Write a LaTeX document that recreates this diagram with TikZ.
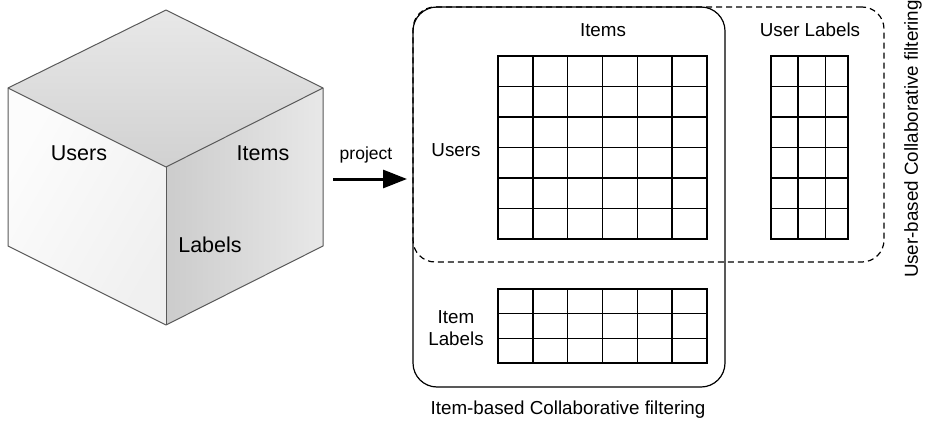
\documentclass[tikz,border=0pt]{standalone}
\usepackage{fontspec}
\setmainfont{Liberation Sans}
\usetikzlibrary{calc,arrows.meta}

\tikzset{
  cubeedge/.style={draw=black!65, line width=1pt, line join=round},
  cubelabel/.style={font=\fontsize{21.5}{25}\selectfont, inner sep=0pt},
  lbl/.style={font=\fontsize{18.8}{23}\selectfont, inner sep=0pt, align=center},
  gridbox/.style={draw=black, line width=1.4pt, minimum width=#1, inner sep=0pt, outer sep=0pt},
  gridline/.style={draw=black, line width=1.4pt},
  groupbox/.style={draw=black, line width=1.2pt, rounded corners=24pt, inner sep=0pt, outer sep=0pt},
  dashbox/.style={draw=black, line width=1.2pt, dash pattern=on 6pt off 4pt, rounded corners=22pt, inner sep=0pt, outer sep=0pt},
  bigarrow/.style={line width=3pt, -{Triangle[length=24pt,width=18pt]}}
}

\begin{document}
\begin{tikzpicture}[x=1pt, y=-1pt]
\useasboundingbox (0,0) rectangle (926,428);

% ---- the cube ----
\coordinate (ct) at (166,10);
\coordinate (cl) at (8,88);
\coordinate (cr) at (323,88);
\coordinate (cc) at (166,167);
\coordinate (cbl) at (8,246);
\coordinate (cbr) at (323,246);
\coordinate (cb) at (166,325);

\shade[top color=black!9, bottom color=black!18] (ct) -- (cr) -- (cc) -- (cl) -- cycle;
\shade[left color=black!1, right color=black!6, shading angle=60] (cl) -- (cc) -- (cb) -- (cbl) -- cycle;
\shade[left color=black!20, right color=black!9] (cc) -- (cr) -- (cbr) -- (cb) -- cycle;
\draw[cubeedge] (ct) -- (cr) -- (cbr) -- (cb) -- (cbl) -- (cl) -- cycle;
\draw[cubeedge] (cl) -- (cc) -- (cr);
\draw[cubeedge] (cc) -- (cb);

\node[cubelabel] (cusers) at (79,153) {Users};
\node[cubelabel] (citems) at (263,153) {Items};
\node[cubelabel] (clabels) at (210,245) {Labels};

% ---- group frames ----
\node[groupbox, minimum width=312pt, minimum height=380pt] (ibcf) at (569,197) {};
\node[dashbox, minimum width=471pt, minimum height=255pt] (ubcf) at (648.5,134.5) {};

% ---- projection arrow ----
\coordinate (astart) at (333,179);
\draw[bigarrow] (astart) -- ([xshift=-6pt]ibcf.west |- astart);
\node[font=\fontsize{17.5}{21}\selectfont, inner sep=0pt] (proj) at (366,155) {project};

% ---- user x item matrix ----
\node[gridbox=209pt, minimum height=183pt] (ui) at (602.5,147.5) {};
\foreach \i in {1,...,5} {
  \draw[gridline] ($(ui.north west)!\i/6!(ui.north east)$) -- ($(ui.south west)!\i/6!(ui.south east)$);
  \draw[gridline] ($(ui.north west)!\i/6!(ui.south west)$) -- ($(ui.north east)!\i/6!(ui.south east)$);
}

% ---- user label matrix ----
\node[gridbox=77pt, minimum height=183pt] (ul) at (809.5,147.5) {};
\foreach \f in {0.35,0.71}
  \draw[gridline] ($(ul.north west)!\f!(ul.north east)$) -- ($(ul.south west)!\f!(ul.south east)$);
\foreach \i in {1,...,5}
  \draw[gridline] ($(ul.north west)!\i/6!(ul.south west)$) -- ($(ul.north east)!\i/6!(ul.south east)$);

% ---- item label matrix ----
\node[gridbox=209pt, minimum height=74pt] (il) at (602.5,326) {};
\foreach \i in {1,...,5}
  \draw[gridline] ($(il.north west)!\i/6!(il.north east)$) -- ($(il.south west)!\i/6!(il.south east)$);
\foreach \i in {1,2}
  \draw[gridline] ($(il.north west)!\i/3!(il.south west)$) -- ($(il.north east)!\i/3!(il.south east)$);

% ---- labels ----
\node[lbl] (litems) at (603,30) {Items};
\node[lbl] (lusers) at (456,150) {Users};
\node[lbl] (lulabels) at (810,30) {User Labels};
\node[lbl] (lilabels) at (456,328) {Item\\[-1pt]Labels};
\node[lbl] (libcf) at (568,410) {Item-based Collaborative filtering};
\node[lbl, rotate=90] (lubcf) at (913,139) {User-based Collaborative filtering};

\end{tikzpicture}
\end{document}
